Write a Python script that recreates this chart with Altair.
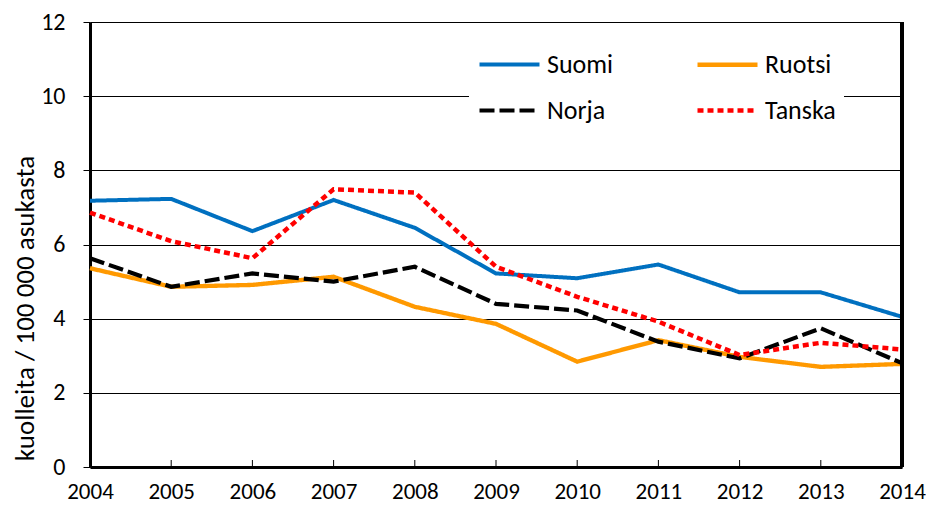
import altair as alt
import pandas as pd

years = [2004, 2005, 2006, 2007, 2008, 2009, 2010, 2011, 2012, 2013, 2014]
suomi = [7.18, 7.23, 6.36, 7.20, 6.45, 5.22, 5.09, 5.46, 4.71, 4.71, 4.05]
ruotsi = [5.36, 4.86, 4.91, 5.13, 4.32, 3.86, 2.84, 3.42, 2.97, 2.70, 2.78]
norja = [5.63, 4.86, 5.22, 5.00, 5.40, 4.40, 4.22, 3.38, 2.93, 3.74, 2.80]
tanska = [6.86, 6.09, 5.63, 7.49, 7.40, 5.40, 4.59, 3.92, 3.02, 3.35, 3.17]

# legend is filled column by column: Suomi/Norja in col 1, Ruotsi/Tanska in col 2
series_names = ["Suomi", "Norja", "Ruotsi", "Tanska"]
series_colors = ["#0070C0", "#000000", "#FF9900", "#FF0000"]
series_dash = [[1, 0], [15, 5], [1, 0], [6, 4]]
series_width = [4, 4.5, 4, 5.5]

rows = []
for name, vals in zip(["Suomi", "Ruotsi", "Norja", "Tanska"], [suomi, ruotsi, norja, tanska]):
    for yr, v in zip(years, vals):
        rows.append({"vuosi": yr, "arvo": v, "maa": name})
df = pd.DataFrame(rows)
ticks_df = pd.DataFrame({"vuosi": years})

FONT = "Carlito, Calibri, Liberation Sans, sans-serif"

x_scale = alt.Scale(domain=[2004, 2014], nice=False, zero=False)
y_scale = alt.Scale(domain=[0, 12], nice=False)

lines = alt.Chart(df).mark_line(strokeCap="butt", clip=False).encode(
    x=alt.X("vuosi:Q", scale=x_scale,
            axis=alt.Axis(values=years, format="d", title=None, grid=False,
                          domainWidth=3, domainColor="black", ticks=False,
                          labelFlush=False, labelOverlap=False,
                          labelPadding=13, labelFontSize=23, labelFont=FONT,
                          labelColor="black")),
    y=alt.Y("arvo:Q", scale=y_scale,
            axis=alt.Axis(values=[0, 2, 4, 6, 8, 10, 12], title="kuolleita / 100 000 asukasta",
                          grid=True, gridColor="black", gridWidth=1,
                          domainWidth=3, domainColor="black", tickColor="black",
                          tickSize=7, labelPadding=18, labelFontSize=24, labelFont=FONT,
                          labelColor="black", titleFont=FONT, titleFontSize=27,
                          titleFontWeight="normal", titleColor="black",
                          titleBaseline="alphabetic", titleAngle=270,
                          titleX=-57, titleY=286)),
    color=alt.Color("maa:N", scale=alt.Scale(domain=series_names, range=series_colors),
                    legend=alt.Legend(title=None, orient="none", legendX=379, legendY=2,
                                      columns=2, columnPadding=74, rowPadding=-12,
                                      symbolType="M-1,0H1", symbolSize=3600,
                                      symbolStrokeWidth=4.5, labelFontSize=26,
                                      labelFont=FONT, labelColor="black",
                                      labelOffset=5, fillColor="white", padding=8,
                                      labelLimit=200)),
    strokeDash=alt.StrokeDash("maa:N", scale=alt.Scale(domain=series_names, range=series_dash),
                              legend=None),
    strokeWidth=alt.StrokeWidth("maa:N", scale=alt.Scale(domain=series_names, range=series_width),
                                legend=None),
)

ticks = alt.Chart(ticks_df).mark_rule(color="black", strokeWidth=1).encode(
    x=alt.X("vuosi:Q", scale=x_scale),
    y=alt.value(438),
    y2=alt.value(445),
)

right_border = alt.Chart(ticks_df).mark_rule(color="black", strokeWidth=3).encode(
    x=alt.value(812),
    y=alt.value(0),
    y2=alt.value(445),
)

chart = alt.layer(ticks, lines, right_border).properties(
    width=812, height=445,
    autosize=alt.AutoSizeParams(type="none"),
    padding={"left": 82, "top": 14, "right": 24, "bottom": 40},
).configure_view(stroke=None)

chart.save("out.html", embed_options={"renderer": "svg", "actions": False})
